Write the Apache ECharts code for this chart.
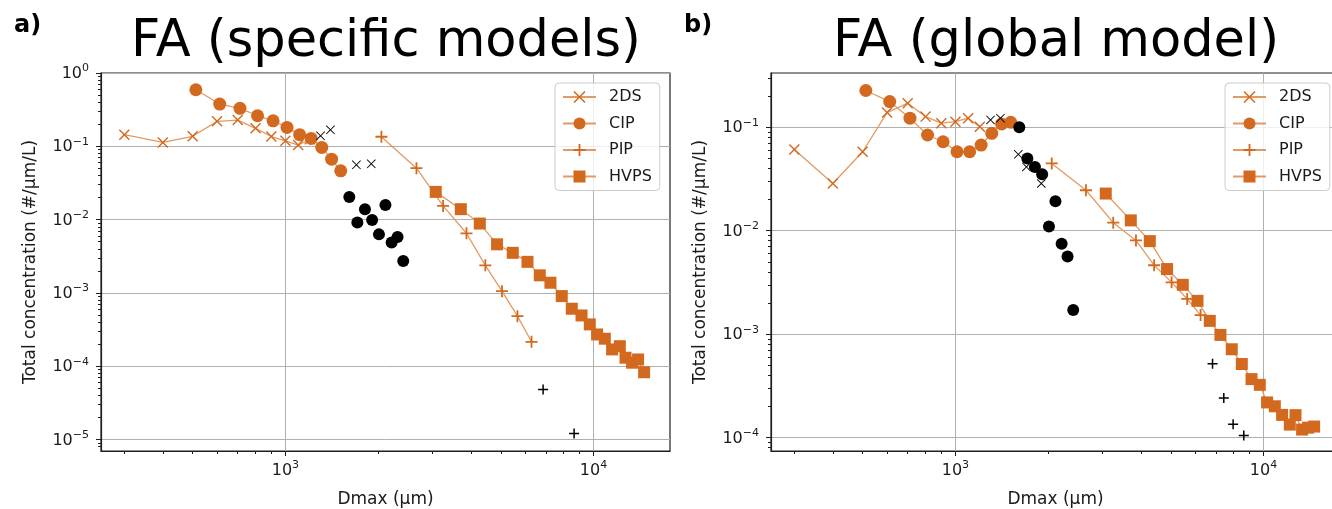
<!DOCTYPE html>
<html><head><meta charset="utf-8">
<script src="https://cdn.jsdelivr.net/npm/echarts@6/dist/echarts.min.js"></script>
<style>html,body{margin:0;padding:0;background:#fff}#c{width:1332px;height:509px}</style>
</head><body><div id="c"></div>
<script>
// ---------- data ----------
// Panel a) FA (specific models)
const a_2ds_x = [300, 400, 500, 600, 700, 800, 900, 1000, 1100, 1200];
const a_2ds_y = [0.144, 0.113, 0.137, 0.219, 0.228, 0.176, 0.136, 0.119, 0.104, 0.125];
const a_2ds_out_x = [1300, 1400, 1700, 1900];
const a_2ds_out_y = [0.139, 0.168, 0.0559, 0.0577];
const a_cip_x = [512, 612, 712, 812, 912, 1012, 1112, 1212, 1312, 1412, 1512];
const a_cip_y = [0.591, 0.377, 0.330, 0.261, 0.223, 0.181, 0.144, 0.128, 0.0966, 0.0669, 0.0463];
const a_cip_out_x = [1612, 1712, 1812, 1912, 2012, 2112, 2212, 2312, 2412];
const a_cip_out_y = [0.0204, 0.00913, 0.0139, 0.0099, 0.0063, 0.0159, 0.00487, 0.0058, 0.00273];
const a_pip_x = [2049, 2663, 3249, 3870, 4455, 5047, 5665, 6292];
const a_pip_y = [0.135, 0.0504, 0.0154, 0.00652, 0.00238, 0.00106, 0.000483, 0.000216];
const a_pip_out_x = [6862, 8650];
const a_pip_out_y = [4.82e-5, 1.21e-5];
const a_hvps_x = [3076, 3709, 4275, 4864, 5470, 6106, 6694, 7248, 7888, 8503, 9144, 9727, 10273, 10882, 11492, 12173, 12704, 13344, 13956, 14600];
const a_hvps_y = [0.0239, 0.0139, 0.00885, 0.00461, 0.00353, 0.00266, 0.00174, 0.00138, 0.000907, 0.00061, 0.000494, 0.000373, 0.000272, 0.000238, 0.00017, 0.000188, 0.000131, 0.000112, 0.000124, 0.000083];

// Panel b) FA (global model)
const b_2ds_x = [300, 400, 500, 600, 700, 800, 900, 1000, 1100, 1200];
const b_2ds_y = [0.0611, 0.0286, 0.058, 0.1387, 0.171, 0.1267, 0.1094, 0.1133, 0.1223, 0.1013];
const b_2ds_out_x = [1300, 1400, 1600, 1700, 1900];
const b_2ds_out_y = [0.1178, 0.1223, 0.0547, 0.0414, 0.0286];
const b_cip_x = [512, 612, 712, 812, 912, 1012, 1112, 1212, 1312, 1412, 1512];
const b_cip_y = [0.2265, 0.177, 0.1223, 0.0842, 0.0724, 0.058, 0.058, 0.0673, 0.0874, 0.1077, 0.1118];
const b_cip_out_x = [1612, 1712, 1812, 1912, 2012, 2112, 2212, 2312, 2412];
const b_cip_out_y = [0.1, 0.05, 0.0414, 0.0352, 0.011, 0.01925, 0.00748, 0.00563, 0.00171];
const b_pip_x = [2054, 2653, 3253, 3855, 4416, 5032, 5654, 6249];
const b_pip_y = [0.0447, 0.0246, 0.01196, 0.00805, 0.00464, 0.00317, 0.00219, 0.00153];
const b_pip_out_x = [6833, 7432, 7969, 8630];
const b_pip_out_y = [0.000519, 0.000242, 0.000135, 0.000105];
const b_hvps_x = [3076, 3709, 4275, 4864, 5470, 6106, 6694, 7248, 7888, 8503, 9144, 9727, 10273, 10882, 11492, 12173, 12704, 13344, 13956, 14600];
const b_hvps_y = [0.02287, 0.01259, 0.00793, 0.00426, 0.0030, 0.0021, 0.001345, 0.000984, 0.000715, 0.000515, 0.000368, 0.000324, 0.000219, 0.000201, 0.000166, 0.0001337, 0.000165, 0.0001197, 0.000125, 0.000128];

// Axis ranges and tick labels
const legendNames = ['2DS', 'CIP', 'PIP', 'HVPS'];
const titles = ['FA (specific models)', 'FA (global model)'];
const panelLabels = ['a)', 'b)'];
const xName = 'Dmax (µm)';
const yName = 'Total concentration (#/µm/L)';
const xRange = [252, 17714];
const yRangeA = [7.0e-6, 1];
const yRangeB = [7.43e-5, 0.3345];
const xMajor = [1000, 10000];
const yMajorA = [1e-5, 1e-4, 1e-3, 1e-2, 1e-1, 1];
const yMajorB = [1e-4, 1e-3, 1e-2, 1e-1];

// ---------- styling ----------
const FONT = 'DejaVu Sans';
const ORANGE = '#D2691E';
const LINE = '#e39a62';
const INK = '#1a1a1a';
const SPINE = '#1e1e1e';
const X_PATH = 'path://M0,0.9L0.9,0L5,4.1L9.1,0L10,0.9L5.9,5L10,9.1L9.1,10L5,5.9L0.9,10L0,9.1L4.1,5Z';
const X_THIN = 'path://M0,0.7L0.7,0L5,4.3L9.3,0L10,0.7L5.7,5L10,9.3L9.3,10L5,5.7L0.7,10L0,9.3L4.3,5Z';
const PLUS_PATH = 'path://M4.25,0H5.75V4.25H10V5.75H5.75V10H4.25V5.75H0V4.25H4.25Z';

function pairs(xs, ys) { return xs.map((x, i) => [x, ys[i]]); }
function minorTicks(lo, hi) {
  const out = [];
  for (let e = -7; e <= 5; e++) for (let k = 2; k <= 9; k++) {
    const v = k * Math.pow(10, e);
    if (v > lo * 1.0001 && v < hi / 1.0001) out.push(v);
  }
  return out;
}
function supFmt(v) {
  const e = Math.round(Math.log10(v));
  return '{b|10}{s|' + (e < 0 ? '\u2212' + (-e) : String(e)) + '}';
}
const richLab = {
  b: { fontSize: 16, fontFamily: FONT, color: INK, verticalAlign: 'bottom', lineHeight: 18 },
  s: { fontSize: 11, fontFamily: FONT, color: INK, verticalAlign: 'bottom', lineHeight: 18, padding: [0, 0, 8, 0] }
};

const grids = [
  { left: 101, top: 73, width: 569, height: 378 },
  { left: 771, top: 73, width: 569, height: 378 }
].map(g => Object.assign(g, {
  show: true, borderColor: SPINE, borderWidth: 1.2, backgroundColor: 'rgba(0,0,0,0)',
  containLabel: false, outerBoundsMode: 'none'
}));

const xAxes = [];
const yAxes = [];
[0, 1].forEach(gi => {
  const yr = gi === 0 ? yRangeA : yRangeB;
  const ym = gi === 0 ? yMajorA : yMajorB;
  xAxes.push({
    type: 'log', gridIndex: gi, position: 'bottom', min: xRange[0], max: xRange[1],
    name: xName, nameLocation: 'middle', nameGap: 40,
    nameTextStyle: { fontFamily: FONT, fontSize: 17, color: INK },
    axisLine: { show: true, lineStyle: { color: SPINE, width: 1.2 } },
    axisTick: { show: true, customValues: xMajor, length: 5, lineStyle: { color: SPINE, width: 1 } },
    axisLabel: { customValues: xMajor, formatter: supFmt, rich: richLab, margin: 10 },
    splitLine: { show: true, lineStyle: { color: '#b0b0b0', width: 1 } }
  });
  xAxes.push({
    type: 'log', gridIndex: gi, position: 'bottom', min: xRange[0], max: xRange[1],
    axisLine: { show: true, lineStyle: { color: 'rgba(0,0,0,0)', width: 1 } },
    axisLabel: { show: false }, splitLine: { show: false },
    axisTick: { show: true, customValues: minorTicks(xRange[0], xRange[1]), length: 3, lineStyle: { color: SPINE, width: 1 } }
  });
  yAxes.push({
    type: 'log', gridIndex: gi, position: 'left', min: yr[0], max: yr[1],
    name: yName, nameLocation: 'middle', nameGap: 62,
    nameTextStyle: { fontFamily: FONT, fontSize: 17, color: INK },
    axisLine: { show: true, lineStyle: { color: SPINE, width: 1.2 } },
    axisTick: { show: true, customValues: ym, length: 5, lineStyle: { color: SPINE, width: 1 } },
    axisLabel: { customValues: ym, formatter: supFmt, rich: richLab, margin: 12 },
    splitLine: { show: true, lineStyle: { color: '#b0b0b0', width: 1 } }
  });
  yAxes.push({
    type: 'log', gridIndex: gi, position: 'left', min: yr[0], max: yr[1],
    axisLine: { show: true, lineStyle: { color: 'rgba(0,0,0,0)', width: 1 } },
    axisLabel: { show: false }, splitLine: { show: false },
    axisTick: { show: true, customValues: minorTicks(yr[0], yr[1]), length: 3, lineStyle: { color: SPINE, width: 1 } }
  });
});

function lineSeries(name, gi, data, symbol, size) {
  return {
    type: 'line', name, xAxisIndex: gi * 2, yAxisIndex: gi * 2, data,
    symbol, symbolSize: size, showSymbol: true, showAllSymbol: true,
    itemStyle: { color: ORANGE, borderWidth: 0 },
    lineStyle: { color: LINE, width: 1.3 },
    emphasis: { disabled: true }, z: 3
  };
}
function outSeries(name, gi, data, symbol, size) {
  return {
    type: 'scatter', name, xAxisIndex: gi * 2, yAxisIndex: gi * 2, data,
    symbol, symbolSize: size, itemStyle: { color: '#000', opacity: 1 },
    emphasis: { disabled: true }, z: 4
  };
}

const series = [
  lineSeries('2DS', 0, pairs(a_2ds_x, a_2ds_y), X_PATH, 11),
  lineSeries('CIP', 0, pairs(a_cip_x, a_cip_y), 'circle', 13),
  lineSeries('PIP', 0, pairs(a_pip_x, a_pip_y), PLUS_PATH, 12),
  lineSeries('HVPS', 0, pairs(a_hvps_x, a_hvps_y), 'rect', 12),
  outSeries('2DS excluded', 0, pairs(a_2ds_out_x, a_2ds_out_y), X_THIN, 9),
  outSeries('CIP excluded', 0, pairs(a_cip_out_x, a_cip_out_y), 'circle', 12),
  outSeries('PIP excluded', 0, pairs(a_pip_out_x, a_pip_out_y), PLUS_PATH, 10),
  lineSeries('2DS', 1, pairs(b_2ds_x, b_2ds_y), X_PATH, 11),
  lineSeries('CIP', 1, pairs(b_cip_x, b_cip_y), 'circle', 13),
  lineSeries('PIP', 1, pairs(b_pip_x, b_pip_y), PLUS_PATH, 12),
  lineSeries('HVPS', 1, pairs(b_hvps_x, b_hvps_y), 'rect', 12),
  outSeries('2DS excluded', 1, pairs(b_2ds_out_x, b_2ds_out_y), X_THIN, 9),
  outSeries('CIP excluded', 1, pairs(b_cip_out_x, b_cip_out_y), 'circle', 12),
  outSeries('PIP excluded', 1, pairs(b_pip_out_x, b_pip_out_y), PLUS_PATH, 10)
];

function legendAt(left) {
  return {
    left, top: 83, orient: 'vertical', data: legendNames,
    itemWidth: 33, itemHeight: 15, itemGap: 10.5, padding: [6, 8, 6, 7],
    backgroundColor: 'rgba(255,255,255,0.8)', borderColor: '#cccccc', borderWidth: 1, borderRadius: 4,
    textStyle: { fontFamily: FONT, fontSize: 16, color: INK, padding: [0, 0, 0, 8] },
    selectedMode: false
  };
}

const titleStyle = { fontFamily: FONT, fontSize: 51, fontWeight: 'normal', color: '#000' };
const option = {
  animation: false,
  backgroundColor: '#fff',
  title: [
    { text: titles[0], left: 381, top: 12, textAlign: 'center', textStyle: titleStyle },
    { text: titles[1], left: 1051, top: 12, textAlign: 'center', textStyle: titleStyle },
    { text: panelLabels[0], left: 9, top: 9, textStyle: { fontFamily: FONT, fontSize: 24, fontWeight: 'bold', color: '#000' } },
    { text: panelLabels[1], left: 679, top: 9, textStyle: { fontFamily: FONT, fontSize: 24, fontWeight: 'bold', color: '#000' } }
  ],
  legend: [legendAt(555), legendAt(1225)],
  grid: grids,
  xAxis: xAxes,
  yAxis: yAxes,
  series
};

const chart = echarts.init(document.getElementById('c'), null, { renderer: 'canvas' });
chart.setOption(option);
</script></body></html>
